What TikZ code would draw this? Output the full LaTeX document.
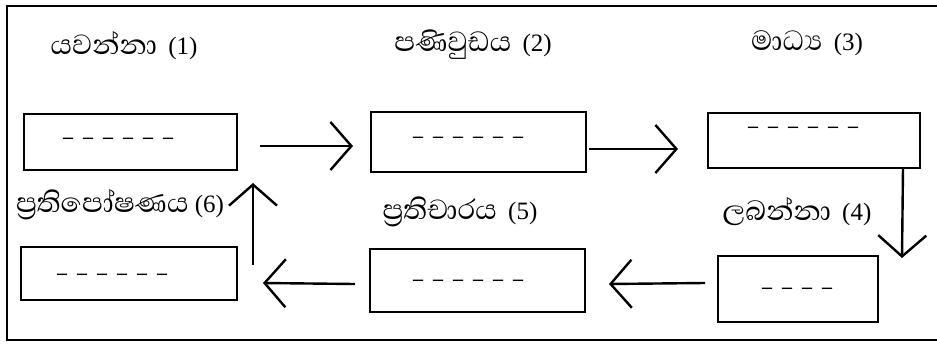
\documentclass[tikz,border=0pt]{standalone}
\usepackage{fontspec}
\setmainfont{Liberation Serif}
\newfontfamily\sinhalafont[Script=Sinhala,Scale=1.42]{Abhaya Libre}
\usetikzlibrary{arrows.meta,calc}
\newcommand\dd{\hspace{10pt}–}
\newcommand\gp{\hspace{5pt}}
\begin{document}
\begin{tikzpicture}[x=1pt,y=-1pt,
  box/.style={draw,line width=2pt,inner sep=0pt,outer sep=0pt},
  lab/.style={font=\fontsize{25}{29}\selectfont,inner sep=0pt},
  dsh/.style={font=\fontsize{20}{24}\selectfont\bfseries,inner sep=0pt},
  arr/.style={line width=2.4pt,-{Straight Barb[length=21pt,width=48pt]}},
  frame/.style={line width=2pt}]
\useasboundingbox (0,0) rectangle (937,343);
\draw[frame] (940,6) -- (7,6) -- (7,340) -- (940,340);
% boxes
\node[box,minimum width=213pt,minimum height=56pt] (b1) at (130.5,142) {};
\node[box,minimum width=215pt,minimum height=60pt] (b2) at (478.5,142) {};
\node[box,minimum width=212pt,minimum height=55pt] (b3) at (814,140.5) {};
\node[box,minimum width=160pt,minimum height=66pt] (b4) at (798,289) {};
\node[box,minimum width=215pt,minimum height=63pt] (b5) at (477.5,280.5) {};
\node[box,minimum width=216pt,minimum height=53pt] (b6) at (129,273.5) {};
% dashes
\node[dsh] (d1) at (118,141) {–\dd\dd\dd\dd\dd};
\node[dsh] (d2) at (468,140) {–\dd\dd\dd\dd\dd};
\node[dsh] (d3) at (803,130) {–\dd\dd\dd\dd\dd};
\node[dsh] (d4) at (797,291) {–\dd\dd\dd};
\node[dsh] (d5) at (468,283) {–\dd\dd\dd\dd\dd};
\node[dsh] (d6) at (112,277) {–\dd\dd\dd\dd\dd};
% labels
\node[lab] (l1) at (124,46) {{\sinhalafont යවන්නා} \gp(1)};
\node[lab] (l2) at (473,45) {{\sinhalafont පණිවුඩය} \gp(2)};
\node[lab] (l3) at (807,43) {{\sinhalafont මාධ්‍ය} \gp(3)};
\node[lab] (l4) at (797,212) {{\sinhalafont ලබන්නා} \gp(4)};
\node[lab] (l5) at (460,212) {{\sinhalafont ප්‍රතිචාරය} \gp(5)};
\node[lab] (l6) at (120,205) {{\sinhalafont ප්‍රතිපෝෂණය} (6)};
% arrows
\draw[arr] ($(b1.east)+(23,4)$) -- ($(b2.west)+(-18,4)$);
\draw[arr] ($(b2.east)+(3,7)$) -- ($(b3.west)+(-30,8.5)$);
\draw[arr] ($(b3.south east)+(-17,0)$) -- ($(b4.north east)+(24,2)$);
\draw[arr] ($(b4.west)+(-13,-6)$) -- ($(b5.east)+(24,3.5)$);
\draw[arr] ($(b5.west)+(-15,3.5)$) -- ($(b6.east)+(26,9.5)$);
\draw[arr] ($(b6.north east)+(16,18)$) -- ($(b1.south east)+(16,13)$);
\end{tikzpicture}
\end{document}
